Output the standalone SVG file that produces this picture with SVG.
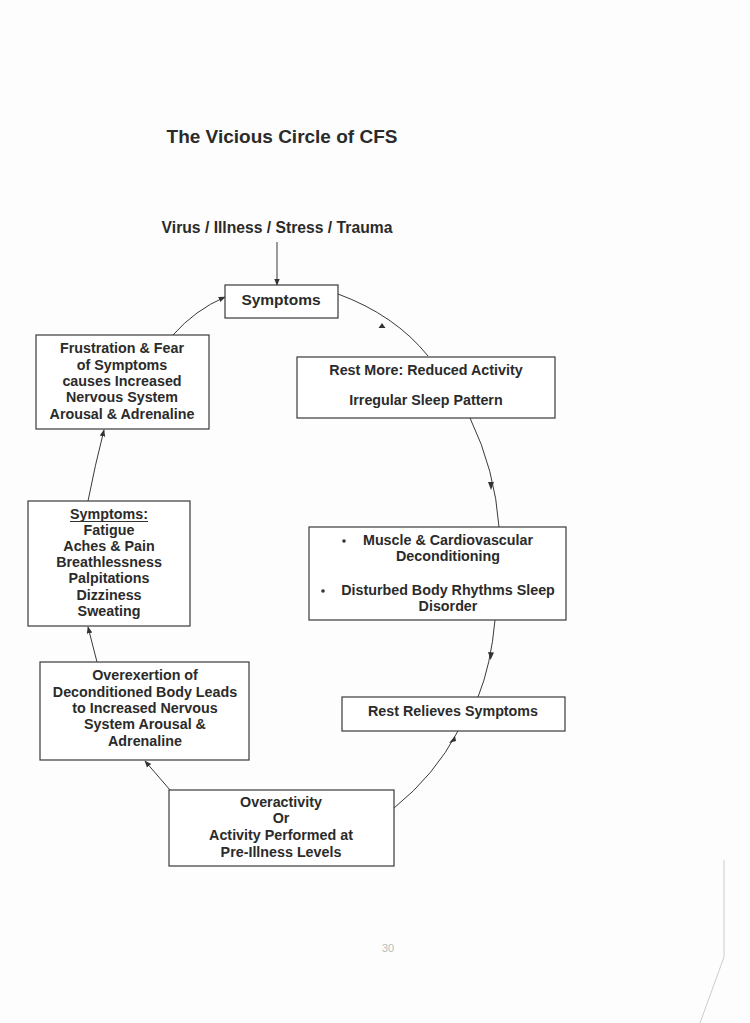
<svg xmlns="http://www.w3.org/2000/svg" width="750" height="1023" viewBox="0 0 750 1023">
<defs>
<style>
text{font-family:"Liberation Sans",Arial,sans-serif;font-weight:bold;fill:#2b2b2b;text-anchor:middle}
.t{font-size:14.3px}
.box{fill:#fff;stroke:#3a3a3a;stroke-width:1.2}
.c{fill:none;stroke:#3a3a3a;stroke-width:1}
</style>
<marker id="ah" viewBox="0 0 10 10" refX="9" refY="5" markerWidth="7" markerHeight="7" orient="auto" markerUnits="userSpaceOnUse">
<path d="M0,1 L10,5 L0,9 z" fill="#333"/>
</marker>
</defs>
<rect width="750" height="1023" fill="#fdfdfd"/>
<text x="282" y="143" style="font-size:19px">The Vicious Circle of CFS</text>
<text x="277" y="233" style="font-size:15.7px">Virus / Illness / Stress / Trauma</text>

<g id="connectors">
<path class="c" d="M277,242 L277,285" marker-end="url(#ah)"/>
<path class="c" d="M338,294 Q395,315 428,356"/>
<path d="M382,323 l-3.5,5 l7,0 z" fill="#333"/>
<path class="c" d="M470,418 Q495,470 499,527"/>
<path d="M488,482 l3,8 l3,-8 z" fill="#333"/>
<path class="c" d="M495,620 Q491,665 478,697"/>
<path d="M488,652 l2.5,8 l3.5,-7.5 z" fill="#333"/>
<path class="c" d="M458,731 Q435,775 394,808"/>
<path d="M455,736 l-6,7 l7,-2 z" fill="#333"/>
<path class="c" d="M170,790 L145,761" marker-end="url(#ah)"/>
<path class="c" d="M97,662 L88,627" marker-end="url(#ah)"/>
<path class="c" d="M88,501 Q95,465 104,430" marker-end="url(#ah)"/>
<path class="c" d="M173,335 Q195,310 225,297" marker-end="url(#ah)"/>
</g>

<g id="symptoms-top">
<rect class="box" x="225" y="285" width="113" height="33"/>
<text x="281" y="305" style="font-size:15.5px">Symptoms</text>
</g>

<g id="rest-more">
<rect class="box" x="297" y="357" width="258" height="61"/>
<text class="t" x="426" y="375">Rest More: Reduced Activity</text>
<text class="t" x="426" y="405">Irregular Sleep Pattern</text>
</g>

<g id="deconditioning">
<rect class="box" x="309" y="527" width="257" height="93"/>
<circle cx="344" cy="541" r="1.8" fill="#333"/>
<text class="t" x="448" y="545">Muscle &amp; Cardiovascular</text>
<text class="t" x="448" y="561">Deconditioning</text>
<circle cx="323" cy="591" r="1.8" fill="#333"/>
<text class="t" x="448" y="595">Disturbed Body Rhythms Sleep</text>
<text class="t" x="448" y="611">Disorder</text>
</g>

<g id="rest-relieves">
<rect class="box" x="342" y="697" width="223" height="34"/>
<text class="t" x="453" y="716">Rest Relieves Symptoms</text>
</g>

<g id="overactivity">
<rect class="box" x="169" y="790" width="225" height="76"/>
<text class="t" x="281" y="807">Overactivity</text>
<text class="t" x="281" y="823">Or</text>
<text class="t" x="281" y="840">Activity Performed at</text>
<text class="t" x="281" y="857">Pre-Illness Levels</text>
</g>

<g id="overexertion">
<rect class="box" x="40" y="662" width="209" height="98"/>
<text class="t" x="145" y="680">Overexertion of</text>
<text class="t" x="145" y="697">Deconditioned Body Leads</text>
<text class="t" x="145" y="713">to Increased Nervous</text>
<text class="t" x="145" y="729">System Arousal &amp;</text>
<text class="t" x="145" y="746">Adrenaline</text>
</g>

<g id="symptoms-list">
<rect class="box" x="28" y="501" width="162" height="125"/>
<text class="t" x="109" y="519">Symptoms:</text>
<line x1="70" y1="521.5" x2="148" y2="521.5" stroke="#333" stroke-width="1"/>
<text class="t" x="109" y="535">Fatigue</text>
<text class="t" x="109" y="551">Aches &amp; Pain</text>
<text class="t" x="109" y="567">Breathlessness</text>
<text class="t" x="109" y="583">Palpitations</text>
<text class="t" x="109" y="600">Dizziness</text>
<text class="t" x="109" y="616">Sweating</text>
</g>

<g id="frustration">
<rect class="box" x="36" y="335" width="173" height="94"/>
<text class="t" x="122" y="353">Frustration &amp; Fear</text>
<text class="t" x="122" y="370">of Symptoms</text>
<text class="t" x="122" y="386">causes Increased</text>
<text class="t" x="122" y="402">Nervous System</text>
<text class="t" x="122" y="419">Arousal &amp; Adrenaline</text>
</g>

<text x="388" y="952" style="font-size:11px;font-weight:normal;fill:#bbb">30</text>
<polyline points="724,860 724,957 700,1023" fill="none" stroke="#ccc" stroke-width="1"/>
</svg>
